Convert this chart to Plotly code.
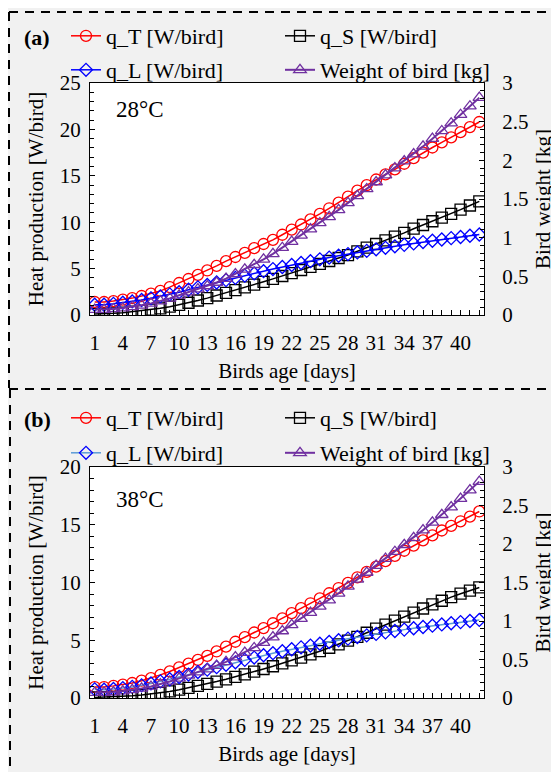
import plotly.graph_objects as go

# ---------------- data ----------------
days = list(range(1, 43))
tick_days = [1, 4, 7, 10, 13, 16, 19, 22, 25, 28, 31, 34, 37, 40]
tick_labels = [str(d) for d in tick_days]

# bird weight [kg] (same growth curve in both panels)
weight = [0.07, 0.07, 0.078, 0.09, 0.105, 0.125, 0.15, 0.18, 0.215, 0.255,
          0.295, 0.335, 0.375, 0.42, 0.47, 0.53, 0.59, 0.65, 0.72, 0.79,
          0.87, 0.95, 1.03, 1.11, 1.19, 1.27, 1.36, 1.45, 1.54, 1.63,
          1.72, 1.81, 1.90, 1.99, 2.08, 2.18, 2.28, 2.38, 2.48, 2.59,
          2.70, 2.81]

# panel (a) 28 °C  [W/bird]
qT_28 = [1.4, 1.4, 1.5, 1.65, 1.82, 2.05, 2.3, 2.6, 3.0, 3.45,
         3.88, 4.32, 4.8, 5.3, 5.8, 6.25, 6.7, 7.2, 7.65, 8.1,
         8.65, 9.2, 9.75, 10.3, 10.9, 11.5, 12.1, 12.75, 13.4, 14.0,
         14.6, 15.15, 15.7, 16.3, 16.9, 17.5, 18.05, 18.6, 19.15, 19.7,
         20.25, 20.8]
qS_28 = [0.1, 0.12, 0.18, 0.25, 0.35, 0.45, 0.58, 0.72, 0.9, 1.1,
         1.32, 1.56, 1.82, 2.1, 2.38, 2.67, 2.97, 3.27, 3.58, 3.89,
         4.2, 4.52, 4.85, 5.18, 5.5, 5.82, 6.14, 6.46, 6.85, 7.25,
         7.65, 8.05, 8.45, 8.85, 9.3, 9.7, 10.1, 10.5, 10.9, 11.35,
         11.8, 12.25]
qL_28 = [1.1, 1.1, 1.2, 1.32, 1.46, 1.62, 1.8, 2.0, 2.22, 2.46,
         2.72, 2.98, 3.24, 3.5, 3.76, 4.0, 4.24, 4.48, 4.72, 4.95,
         5.17, 5.39, 5.6, 5.8, 6.0, 6.19, 6.38, 6.56, 6.74, 6.91,
         7.08, 7.24, 7.4, 7.56, 7.71, 7.86, 8.0, 8.14, 8.28, 8.41,
         8.54, 8.67]

# panel (b) 38 °C  [W/bird]
qT_38 = [0.95, 0.95, 1.05, 1.15, 1.3, 1.5, 1.72, 2.0, 2.3, 2.65,
         2.98, 3.3, 3.65, 4.03, 4.45, 4.87, 5.27, 5.67, 6.05, 6.47,
         6.9, 7.35, 7.78, 8.2, 8.63, 9.07, 9.52, 9.97, 10.45, 10.92,
         11.38, 11.85, 12.3, 12.75, 13.2, 13.65, 14.08, 14.5, 14.9, 15.3,
         15.7, 16.15]
qS_38 = [0.05, 0.08, 0.1, 0.14, 0.2, 0.27, 0.35, 0.45, 0.57, 0.72,
         0.88, 1.05, 1.23, 1.42, 1.62, 1.83, 2.05, 2.28, 2.51, 2.75,
         3.0, 3.25, 3.5, 3.77, 4.05, 4.35, 4.65, 4.97, 5.3, 5.65,
         6.0, 6.35, 6.7, 7.05, 7.4, 7.75, 8.1, 8.42, 8.73, 9.03,
         9.3, 9.57]
qL_38 = [0.75, 0.72, 0.78, 0.86, 0.96, 1.1, 1.26, 1.44, 1.62, 1.82,
         2.03, 2.25, 2.46, 2.67, 2.88, 3.09, 3.3, 3.5, 3.7, 3.88,
         4.05, 4.22, 4.38, 4.54, 4.7, 4.85, 5.0, 5.14, 5.28, 5.42,
         5.55, 5.68, 5.8, 5.92, 6.04, 6.15, 6.26, 6.37, 6.47, 6.57,
         6.67, 6.76]

# ---------------- style ----------------
OFF = 8                      # page body margin
W, H = 559 - OFF, 780 - 2 * OFF
FONT = "Liberation Serif"
RED, BLACK, BLUE, PURPLE = "#ff0000", "#000000", "#0000ff", "#7030a0"
LIGHTBLUE = "#5b9bd5"
BG = "#f1f1f1"


def px_x(p):
    return (p - OFF) / W


def px_y(p):
    return 1 - (p - OFF) / H


fig = go.Figure()


def add_panel(xa, ya, ya2, qT, qS, qL, qL_line, leg1, leg2):
    common = dict(x=days, mode="lines+markers", xaxis=xa)
    fig.add_trace(go.Scatter(**common, y=qT, yaxis=ya, name="q_T [W/bird]",
                             line=dict(color=RED, width=1.5),
                             marker=dict(symbol="circle-open", size=11, color=RED,
                                         line=dict(width=1.3)),
                             legend=leg1))
    fig.add_trace(go.Scatter(**common, y=qS, yaxis=ya, name="q_S [W/bird]",
                             line=dict(color=BLACK, width=1.5),
                             marker=dict(symbol="square-open", size=11, color=BLACK,
                                         line=dict(width=1.3)),
                             legend=leg1))
    fig.add_trace(go.Scatter(**common, y=qL, yaxis=ya, name="q_L [W/bird]",
                             line=dict(color=qL_line, width=1.5),
                             marker=dict(symbol="diamond-open", size=10, color=BLUE,
                                         line=dict(width=1.3)),
                             legend=leg2))
    fig.add_trace(go.Scatter(**common, y=weight, yaxis=ya2, name="Weight of bird [kg]",
                             line=dict(color=PURPLE, width=2),
                             marker=dict(symbol="triangle-up-open", size=11, color=PURPLE,
                                         line=dict(width=1.3)),
                             legend=leg2))


add_panel("x", "y", "y2", qT_28, qS_28, qL_28, BLUE, "legend", "legend2")
add_panel("x2", "y3", "y4", qT_38, qS_38, qL_38, LIGHTBLUE, "legend3", "legend4")

xdom = [px_x(90), px_x(484)]
dom_a = [px_y(315), px_y(83)]
dom_b = [px_y(698), px_y(467)]

tickfont = dict(family=FONT, size=21, color="black")
titlefont = dict(family=FONT, size=21, color="black")


def xaxis(domain_anchor):
    return dict(domain=xdom, anchor=domain_anchor, range=[0.5, 42.5],
                tickmode="array", tickvals=tick_days, ticktext=tick_labels,
                ticks="inside", ticklen=5, tickwidth=1, tickcolor="black",
                minor=dict(tickmode="linear", tick0=0, dtick=1, ticks="inside",
                           ticklen=5, tickcolor="black"),
                showline=True, linecolor="black", linewidth=1.2, mirror=True,
                showgrid=False, zeroline=False, tickfont=tickfont,
                ticklabelstandoff=9, automargin=False,
                title=dict(text="Birds age [days]", font=titlefont, standoff=9))


def yleft(dom, xa, top, title):
    return dict(domain=dom, anchor=xa, range=[0, top], dtick=5,
                ticks="inside", ticklen=5, tickcolor="black",
                minor=dict(dtick=1, ticks="inside", ticklen=4, tickcolor="black"),
                showline=True, linecolor="black", linewidth=1.2, mirror=True,
                showgrid=False, zeroline=False, tickfont=tickfont,
                ticklabelstandoff=4, automargin=False,
                title=dict(text=title, font=titlefont, standoff=10))


def yright(ov, xa):
    return dict(overlaying=ov, anchor=xa, side="right", range=[0, 3], dtick=0.5,
                ticks="inside", ticklen=5, tickcolor="black",
                minor=dict(dtick=0.1, ticks="inside", ticklen=4, tickcolor="black"),
                showline=True, linecolor="black", linewidth=1.2,
                showgrid=False, zeroline=False, tickfont=tickfont,
                ticklabelstandoff=13, automargin=False,
                title=dict(text="Bird weight [kg]", font=titlefont, standoff=7))


legfont = dict(family=FONT, size=22, color="black")


def legend(ypix):
    return dict(orientation="h", x=px_x(66), xanchor="left", y=px_y(ypix),
                yanchor="middle", entrywidth=169, entrywidthmode="pixels",
                font=legfont, bgcolor="rgba(0,0,0,0)", itemclick=False,
                tracegroupgap=0)


shapes = []
dash = dict(color="black", width=2, dash="9px,7px")
for x0, y0, x1, y1 in [(9, 12, 556, 12), (9, 12, 9, 388), (556, 12, 556, 388),
                       (9, 389, 559, 389), (10, 389, 10, 780)]:
    shapes.append(dict(type="line", xref="paper", yref="paper",
                       x0=px_x(x0), x1=px_x(x1), y0=px_y(y0), y1=px_y(y1), line=dash))

annotations = [
    dict(text="<b>(a)</b>", x=px_x(22), y=px_y(37), xref="paper", yref="paper",
         xanchor="left", yanchor="middle", showarrow=False,
         font=dict(family=FONT, size=22, color="black")),
    dict(text="<b>(b)</b>", x=px_x(22), y=px_y(419), xref="paper", yref="paper",
         xanchor="left", yanchor="middle", showarrow=False,
         font=dict(family=FONT, size=22, color="black")),
    dict(text="28°C", x=px_x(114), y=px_y(109), xref="paper", yref="paper",
         xanchor="left", yanchor="middle", showarrow=False,
         font=dict(family=FONT, size=23, color="black")),
    dict(text="38°C", x=px_x(114), y=px_y(499), xref="paper", yref="paper",
         xanchor="left", yanchor="middle", showarrow=False,
         font=dict(family=FONT, size=23, color="black")),
]

fig.update_layout(
    width=W, height=H, margin=dict(l=0, r=0, t=0, b=0, autoexpand=False),
    paper_bgcolor=BG, plot_bgcolor="white",
    font=dict(family=FONT, color="black"),
    xaxis=xaxis("y"), xaxis2=xaxis("y3"),
    yaxis=yleft(dom_a, "x", 25, "Heat production [W/bird]"),
    yaxis2=yright("y", "x"),
    yaxis3=yleft(dom_b, "x2", 20, "Heat production [W/bird]"),
    yaxis4=yright("y3", "x2"),
    legend=legend(36), legend2=legend(70), legend3=legend(418), legend4=legend(453),
    shapes=shapes, annotations=annotations,
)

fig.write_html("out.html")
